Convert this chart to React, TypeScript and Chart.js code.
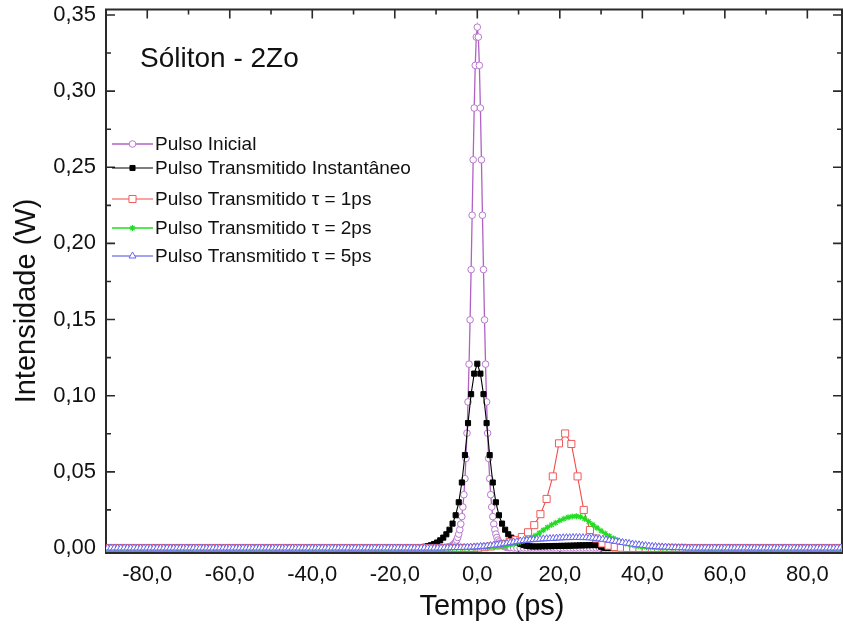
import React, { useEffect, useRef } from 'react';
import { Chart, registerables } from 'chart.js';
import * as helpers from 'chart.js/helpers';

Chart.register(...registerables);

// Axis ranges
const X_MIN = -90;
const X_MAX = 88.4;
const Y_MIN = -0.0033;
const Y_MAX = 0.3536;

const xTickValues = [-80, -60, -40, -20, 0, 20, 40, 60, 80];
const yTickValues = [0, 0.05, 0.1, 0.15, 0.2, 0.25, 0.3, 0.35];

const seriesLabels = [
  'Pulso Inicial',
  'Pulso Transmitido Instantâneo',
  'Pulso Transmitido τ = 1ps',
  'Pulso Transmitido τ = 2ps',
  'Pulso Transmitido τ = 5ps',
];

// Pulso inicial (W), sampled every 0.25 ps from -8 ps
const inicialStart = -8;
const inicialStep = 0.25;
const inicialValues = [
  0.0002, 0.0003, 0.0003, 0.0004, 0.0006, 0.0008, 0.0010, 0.0013,
  0.0017, 0.0023, 0.0030, 0.0040, 0.0052, 0.0069, 0.0091, 0.0120,
  0.0157, 0.0206, 0.0269, 0.0350, 0.0455, 0.0588, 0.0754, 0.0959,
  0.1207, 0.1498, 0.1828, 0.2185, 0.2549, 0.2889, 0.3169, 0.3355,
  0.3420,
  0.3355, 0.3169, 0.2889, 0.2549, 0.2185, 0.1828, 0.1498, 0.1207,
  0.0959, 0.0754, 0.0588, 0.0455, 0.0350, 0.0269, 0.0206, 0.0157,
  0.0120, 0.0091, 0.0069, 0.0052, 0.0040, 0.0030, 0.0023, 0.0017,
  0.0013, 0.0010, 0.0008, 0.0006, 0.0004, 0.0003, 0.0003, 0.0002,
];

// Pulso transmitido instantâneo (W), every 0.75 ps from -15 ps
const instStart = -15;
const instStep = 0.75;
const instValues = [
  0.0001, 0.0003, 0.0005, 0.0008, 0.0012, 0.0018, 0.0026, 0.0036,
  0.0050, 0.0068, 0.0090, 0.0120, 0.0160, 0.0215, 0.0300, 0.0430,
  0.0610, 0.0820, 0.1010, 0.1145,
  0.1210,
  0.1145, 0.1010, 0.0820, 0.0610, 0.0430, 0.0300, 0.0215, 0.0160,
  0.0120, 0.0090, 0.0068, 0.0050, 0.0036, 0.0026, 0.0019, 0.0014,
  0.0011, 0.0010, 0.0010, 0.0010, 0.0011, 0.0011, 0.0012, 0.0012,
  0.0013, 0.0013, 0.0014, 0.0014, 0.0015, 0.0015, 0.0016, 0.0016,
  0.0017, 0.0017, 0.0018, 0.0018, 0.0019, 0.0019, 0.0018, 0.0008,
  0.0001,
];

// Pulso transmitido, tau = 1 ps (W), every 1.5 ps from 0.3 ps
const tau1Start = 0.3;
const tau1Step = 1.5;
const tau1Values = [
  0.0002, 0.0005, 0.0010, 0.0017, 0.0026, 0.0038, 0.0053, 0.0072,
  0.0103, 0.0150, 0.0222, 0.0322, 0.0470, 0.0687, 0.0752, 0.0683,
  0.0470, 0.0250, 0.0118, 0.0062, 0.0030, 0.0015, 0.0006, 0.0002,
];

// Pulso transmitido, tau = 2 ps (W), every 1 ps from 0 ps
const tau2Start = 0;
const tau2Step = 1;
const tau2Values = [
  0.0002, 0.0003, 0.0004, 0.0006, 0.0008, 0.0010, 0.0013, 0.0017,
  0.0022, 0.0028, 0.0036, 0.0045, 0.0055, 0.0067, 0.0080, 0.0098,
  0.0117, 0.0135, 0.0152, 0.0166, 0.0180, 0.0192, 0.0201, 0.0207,
  0.0209, 0.0205, 0.0192, 0.0174, 0.0153, 0.0132, 0.0113, 0.0095,
  0.0078, 0.0063, 0.0050, 0.0039, 0.0030, 0.0023, 0.0017, 0.0012,
  0.0008, 0.0005, 0.0003, 0.0002, 0.0001,
];

// Pulso transmitido, tau = 5 ps (W), every 0.8 ps from -8 ps
const tau5Start = -8;
const tau5Step = 0.8;
const tau5Values = [
  0.0001, 0.0001, 0.0002, 0.0002, 0.0003, 0.0003, 0.0004, 0.0005,
  0.0006, 0.0007, 0.0008, 0.0010, 0.0011, 0.0013, 0.0016, 0.0018,
  0.0021, 0.0024, 0.0028, 0.0031, 0.0035, 0.0039, 0.0042, 0.0046,
  0.0049, 0.0051, 0.0053, 0.0055, 0.0057, 0.0058, 0.0060, 0.0061,
  0.0062, 0.0063, 0.0065, 0.0066, 0.0067, 0.0068, 0.0068, 0.0069,
  0.0069, 0.0069, 0.0068, 0.0068, 0.0067, 0.0065, 0.0063, 0.0060,
  0.0057, 0.0054, 0.0051, 0.0047, 0.0044, 0.0040, 0.0036, 0.0033,
  0.0030, 0.0026, 0.0023, 0.0021, 0.0018, 0.0016, 0.0013, 0.0011,
  0.0010, 0.0008, 0.0007, 0.0006, 0.0005, 0.0004, 0.0003, 0.0002,
  0.0002, 0.0001,
];

// Outside the listed windows every pulse sits at zero power; the
// simulation grid keeps sampling there, which gives the marker row
// along the time axis.
function sampled(start: number, step: number, values: number[], tailStep: number) {
  const end = start + (values.length - 1) * step;
  const left: { x: number; y: number }[] = [];
  for (let t = start - tailStep; t >= X_MIN - tailStep; t -= tailStep) left.unshift({ x: t, y: 0 });
  const core = values.map((v, i) => ({ x: start + i * step, y: v }));
  const right: { x: number; y: number }[] = [];
  for (let t = end + tailStep; t <= X_MAX + tailStep; t += tailStep) right.push({ x: t, y: 0 });
  return [...left, ...core, ...right];
}

const FONT = '"Liberation Sans", Arial, Helvetica, sans-serif';
const TEXT = '#111';

const legendRows = [144, 168, 199, 228, 256];

const decorPlugin = {
  id: 'decor',
  beforeDatasetsDraw(chart: any) {
    const { ctx, chartArea: a, scales } = chart;
    const xs = scales.x;
    const ys = scales.y;
    ctx.save();
    ctx.strokeStyle = '#2a2a2a';
    ctx.lineWidth = 2;
    ctx.strokeRect(a.left, a.top, a.right - a.left, a.bottom - a.top);
    ctx.lineWidth = 1.6;
    const xMinor = xTickValues.map((v) => v + 10).filter((v) => v < X_MAX);
    const yMinor = yTickValues.map((v) => v + 0.025).filter((v) => v < Y_MAX);
    const tickX = (v: number, len: number) => {
      const px = xs.getPixelForValue(v);
      ctx.beginPath();
      ctx.moveTo(px, a.bottom);
      ctx.lineTo(px, a.bottom - len);
      ctx.moveTo(px, a.top);
      ctx.lineTo(px, a.top + len);
      ctx.stroke();
    };
    const tickY = (v: number, len: number) => {
      const py = ys.getPixelForValue(v);
      ctx.beginPath();
      ctx.moveTo(a.left, py);
      ctx.lineTo(a.left + len, py);
      ctx.moveTo(a.right, py);
      ctx.lineTo(a.right - len, py);
      ctx.stroke();
    };
    xTickValues.forEach((v) => tickX(v, 9));
    xMinor.forEach((v) => tickX(v, 5));
    yTickValues.forEach((v) => tickY(v, 9));
    yMinor.forEach((v) => tickY(v, 5));
    ctx.restore();
  },
  afterDraw(chart: any) {
    const { ctx } = chart;
    ctx.save();
    ctx.fillStyle = TEXT;
    // plot title
    ctx.font = `28px ${FONT}`;
    ctx.textAlign = 'left';
    ctx.textBaseline = 'alphabetic';
    ctx.fillText('Sóliton - 2Zo', 140, 67);
    // axis titles
    ctx.font = `29px ${FONT}`;
    ctx.textAlign = 'center';
    ctx.textBaseline = 'middle';
    ctx.fillText('Tempo (ps)', 492, 607);
    ctx.save();
    ctx.translate(27, 301);
    ctx.rotate(-Math.PI / 2);
    ctx.fillText('Intensidade (W)', 0, 0);
    ctx.restore();
    // legend
    chart.data.datasets.forEach((ds: any, i: number) => {
      const y = legendRows[i];
      ctx.strokeStyle = ds.borderColor;
      ctx.lineWidth = ds.borderWidth;
      ctx.beginPath();
      ctx.moveTo(112, y);
      ctx.lineTo(153, y);
      ctx.stroke();
      ctx.fillStyle = ds.pointBackgroundColor;
      ctx.strokeStyle = ds.pointBorderColor;
      ctx.lineWidth = ds.pointBorderWidth;
      helpers.drawPoint(
        ctx,
        { pointStyle: ds.pointStyle, radius: ds.pointRadius, rotation: 0, borderWidth: ds.pointBorderWidth },
        132.5,
        y
      );
      ctx.fillStyle = TEXT;
      ctx.font = `19px ${FONT}`;
      ctx.textAlign = 'left';
      ctx.textBaseline = 'middle';
      ctx.fillText(ds.label, 155, y + 1);
    });
    ctx.restore();
  },
};

export default function App() {
  const canvasRef = useRef<HTMLCanvasElement | null>(null);

  useEffect(() => {
    document.body.style.margin = '0';
    const canvas = canvasRef.current;
    if (!canvas) return;

    const datasets = [
      {
        label: seriesLabels[0],
        data: sampled(inicialStart, inicialStep, inicialValues, 0.8),
        borderColor: '#b062c4',
        borderWidth: 1.3,
        pointStyle: 'circle',
        pointRadius: 3.3,
        pointBorderWidth: 1,
        pointBorderColor: '#b878cc',
        pointBackgroundColor: '#ffffff',
        order: 5,
      },
      {
        label: seriesLabels[1],
        data: sampled(instStart, instStep, instValues, 0.75),
        borderColor: '#000000',
        borderWidth: 1.1,
        pointStyle: 'rect',
        pointRadius: 3.6,
        pointBorderWidth: 1,
        pointBorderColor: '#000000',
        pointBackgroundColor: '#000000',
        order: 4,
      },
      {
        label: seriesLabels[2],
        data: sampled(tau1Start, tau1Step, tau1Values, 1.5),
        borderColor: '#f04a4a',
        borderWidth: 1.1,
        pointStyle: 'rect',
        pointRadius: 5,
        pointBorderWidth: 1,
        pointBorderColor: '#f05a5a',
        pointBackgroundColor: '#ffffff',
        order: 3,
      },
      {
        label: seriesLabels[3],
        data: sampled(tau2Start, tau2Step, tau2Values, 1),
        borderColor: '#22dd22',
        borderWidth: 1.6,
        pointStyle: 'star',
        pointRadius: 3,
        pointBorderWidth: 1.2,
        pointBorderColor: '#22dd22',
        pointBackgroundColor: '#22dd22',
        order: 2,
      },
      {
        label: seriesLabels[4],
        data: sampled(tau5Start, tau5Step, tau5Values, 0.8),
        borderColor: '#4848e6',
        borderWidth: 1.1,
        pointStyle: 'triangle',
        pointRadius: 4,
        pointBorderWidth: 1,
        pointBorderColor: '#6464ee',
        pointBackgroundColor: '#ffffff',
        order: 1,
      },
    ];

    const chart = new Chart(canvas, {
      type: 'line',
      data: { datasets: datasets as any },
      options: {
        animation: false,
        responsive: false,
        devicePixelRatio: 1,
        layout: { autoPadding: false, padding: { top: 9.5, right: 1, left: 0, bottom: 0 } },
        elements: { line: { tension: 0 } },
        plugins: { legend: { display: false }, tooltip: { enabled: false } },
        scales: {
          x: {
            type: 'linear',
            min: X_MIN,
            max: X_MAX,
            grid: { display: false, drawTicks: false },
            border: { display: false },
            afterBuildTicks: (scale: any) => {
              scale.ticks = xTickValues.map((value) => ({ value }));
            },
            afterFit: (scale: any) => {
              scale.height = 75;
              scale.paddingLeft = 0;
              scale.paddingRight = 0;
            },
            ticks: {
              autoSkip: false,
              maxRotation: 0,
              padding: 9,
              color: TEXT,
              font: { family: FONT, size: 22 },
              callback: (v: any) => Number(v).toFixed(1).replace('.', ','),
            },
          },
          y: {
            type: 'linear',
            min: Y_MIN,
            max: Y_MAX,
            grid: { display: false, drawTicks: false },
            border: { display: false },
            afterBuildTicks: (scale: any) => {
              scale.ticks = yTickValues.map((value) => ({ value }));
            },
            afterFit: (scale: any) => {
              scale.width = 106;
              scale.paddingTop = 0;
              scale.paddingBottom = 0;
            },
            ticks: {
              autoSkip: false,
              padding: 10,
              color: TEXT,
              font: { family: FONT, size: 22 },
              callback: (v: any) => Number(v).toFixed(2).replace('.', ','),
            },
          },
        },
      },
      plugins: [decorPlugin],
    });

    return () => chart.destroy();
  }, []);

  return (
    <div style={{ position: 'absolute', left: 0, top: 0, width: 843, height: 628, background: '#ffffff' }}>
      <canvas ref={canvasRef} width={843} height={628} style={{ display: 'block', width: 843, height: 628 }} />
    </div>
  );
}
